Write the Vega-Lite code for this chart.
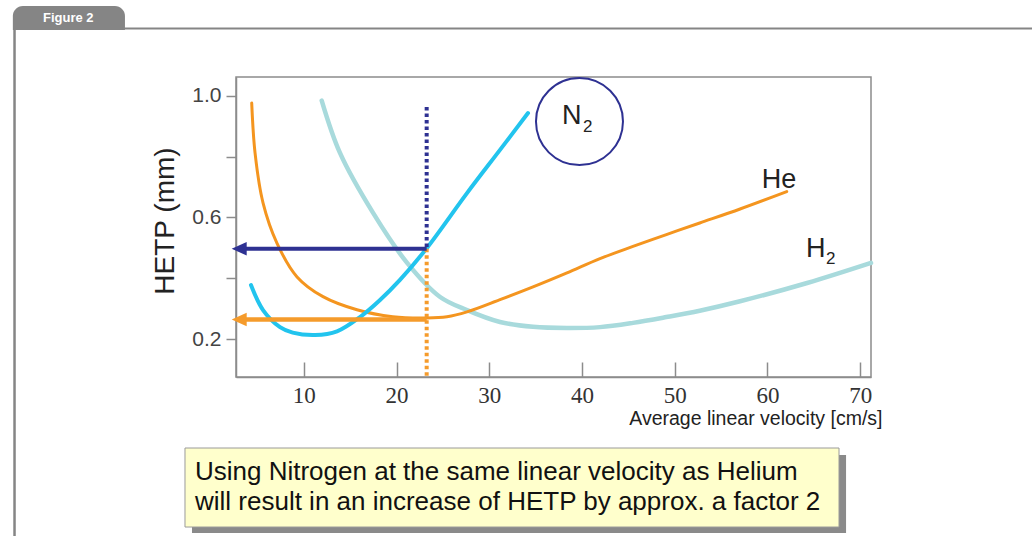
{
  "$schema": "https://vega.github.io/schema/vega-lite/v6.json",
  "width": 635,
  "height": 300,
  "autosize": {"type": "none"},
  "padding": {"left": 236, "top": 77, "right": 161, "bottom": 159},
  "background": "white",
  "config": {"view": {"stroke": "#8c8c8c", "strokeWidth": 1.5}, "font": "Liberation Sans"},
  "datasets": {
    "one": [{}],
    "curves": [
      {"gas": "H2", "v": 11.93, "hetp": 0.984},
      {"gas": "H2", "v": 13.9, "hetp": 0.812},
      {"gas": "H2", "v": 17.47, "hetp": 0.615},
      {"gas": "H2", "v": 21.14, "hetp": 0.451},
      {"gas": "H2", "v": 24.7, "hetp": 0.339},
      {"gas": "H2", "v": 27.6, "hetp": 0.296},
      {"gas": "H2", "v": 31.16, "hetp": 0.257},
      {"gas": "H2", "v": 34.72, "hetp": 0.241},
      {"gas": "H2", "v": 38.38, "hetp": 0.237},
      {"gas": "H2", "v": 41.94, "hetp": 0.240},
      {"gas": "H2", "v": 45.5, "hetp": 0.254},
      {"gas": "H2", "v": 49.1, "hetp": 0.273},
      {"gas": "H2", "v": 52.7, "hetp": 0.294},
      {"gas": "H2", "v": 57.05, "hetp": 0.325},
      {"gas": "H2", "v": 64.28, "hetp": 0.385},
      {"gas": "H2", "v": 71.17, "hetp": 0.451},
      {"gas": "He", "v": 4.38, "hetp": 0.976},
      {"gas": "He", "v": 4.74, "hetp": 0.812},
      {"gas": "He", "v": 5.6, "hetp": 0.648},
      {"gas": "He", "v": 7.1, "hetp": 0.516},
      {"gas": "He", "v": 9.27, "hetp": 0.405},
      {"gas": "He", "v": 12.07, "hetp": 0.34},
      {"gas": "He", "v": 15.73, "hetp": 0.297},
      {"gas": "He", "v": 19.6, "hetp": 0.274},
      {"gas": "He", "v": 23.28, "hetp": 0.27},
      {"gas": "He", "v": 25.44, "hetp": 0.274},
      {"gas": "He", "v": 27.6, "hetp": 0.29},
      {"gas": "He", "v": 31.16, "hetp": 0.33},
      {"gas": "He", "v": 34.72, "hetp": 0.372},
      {"gas": "He", "v": 38.38, "hetp": 0.418},
      {"gas": "He", "v": 41.94, "hetp": 0.465},
      {"gas": "He", "v": 45.5, "hetp": 0.505},
      {"gas": "He", "v": 49.1, "hetp": 0.544},
      {"gas": "He", "v": 52.7, "hetp": 0.582},
      {"gas": "He", "v": 57.05, "hetp": 0.628},
      {"gas": "He", "v": 62.08, "hetp": 0.685},
      {"gas": "N2", "v": 4.3, "hetp": 0.378},
      {"gas": "N2", "v": 5.6, "hetp": 0.296},
      {"gas": "N2", "v": 7.43, "hetp": 0.24},
      {"gas": "N2", "v": 8.8, "hetp": 0.222},
      {"gas": "N2", "v": 11.21, "hetp": 0.214},
      {"gas": "N2", "v": 13.58, "hetp": 0.226},
      {"gas": "N2", "v": 16.06, "hetp": 0.273},
      {"gas": "N2", "v": 18.22, "hetp": 0.329},
      {"gas": "N2", "v": 20.37, "hetp": 0.395},
      {"gas": "N2", "v": 23.28, "hetp": 0.5},
      {"gas": "N2", "v": 27.6, "hetp": 0.68},
      {"gas": "N2", "v": 31.16, "hetp": 0.822},
      {"gas": "N2", "v": 34.18, "hetp": 0.943}
    ]
  },
  "layer": [
    {
      "data": {"name": "curves"},
      "transform": [{"filter": "datum.gas === 'H2'"}],
      "mark": {"type": "line", "interpolate": "catmull-rom", "color": "#a8dadc", "strokeWidth": 4.5, "strokeCap": "round"},
      "encoding": {
        "x": {
          "field": "v", "type": "quantitative",
          "scale": {"domain": [2.686, 71.17], "nice": false, "zero": false},
          "axis": {
            "title": "Average linear velocity [cm/s]",
            "values": [10, 20, 30, 40, 50, 60, 70],
            "grid": false,
            "tickSize": -15, "tickColor": "#8c8c8c", "tickWidth": 1.5,
            "domainColor": "#8c8c8c", "domainWidth": 1.5,
            "labelFont": "Liberation Serif", "labelFontSize": 23, "labelColor": "#333333",
            "labelPadding": 22, "labelFlush": false, "labelDx": -3,
            "titleFont": "Liberation Sans", "titleFontSize": 19.5, "titleFontWeight": "normal", "titleColor": "#222222",
            "titleAnchor": "end", "titleAlign": "right", "titleX": 646, "titleY": 47, "titleBaseline": "alphabetic"
          }
        },
        "y": {
          "field": "hetp", "type": "quantitative",
          "scale": {"domain": [0.0762, 1.0614], "nice": false, "zero": false},
          "axis": {
            "title": "HETP (mm)",
            "values": [0.2, 0.4, 0.6, 0.8, 1.0],
            "labelExpr": "abs(datum.value-0.4)<0.01 || abs(datum.value-0.8)<0.01 ? '' : format(datum.value, '.1f')",
            "grid": false,
            "tickSize": 10, "tickColor": "#8c8c8c", "tickWidth": 1.5,
            "domainColor": "#8c8c8c", "domainWidth": 1.5,
            "labelFont": "Liberation Sans", "labelFontSize": 21, "labelColor": "#444444", "labelPadding": 5,
            "titleFont": "Liberation Sans", "titleFontSize": 28, "titleFontWeight": "normal", "titleColor": "#222222",
            "titlePadding": 12, "titleY": 143.5
          }
        }
      }
    },
    {
      "data": {"name": "curves"},
      "transform": [{"filter": "datum.gas === 'He'"}],
      "mark": {"type": "line", "interpolate": "catmull-rom", "color": "#f4951f", "strokeWidth": 3, "strokeCap": "round"},
      "encoding": {
        "x": {"field": "v", "type": "quantitative"},
        "y": {"field": "hetp", "type": "quantitative"}
      }
    },
    {
      "data": {"name": "curves"},
      "transform": [{"filter": "datum.gas === 'N2'"}],
      "mark": {"type": "line", "interpolate": "catmull-rom", "color": "#22c4ee", "strokeWidth": 4, "strokeCap": "round"},
      "encoding": {
        "x": {"field": "v", "type": "quantitative"},
        "y": {"field": "hetp", "type": "quantitative"}
      }
    },
    {
      "data": {"name": "one"},
      "mark": {"type": "rule", "color": "#2e3192", "strokeWidth": 4, "strokeDash": [3.5, 3]},
      "encoding": {
        "x": {"datum": 23.25, "type": "quantitative"},
        "y": {"datum": 0.963, "type": "quantitative"},
        "y2": {"datum": 0.497}
      }
    },
    {
      "data": {"name": "one"},
      "mark": {"type": "rule", "color": "#f59b2b", "strokeWidth": 4, "strokeDash": [3.5, 3]},
      "encoding": {
        "x": {"datum": 23.25, "type": "quantitative"},
        "y": {"datum": 0.497, "type": "quantitative"},
        "y2": {"datum": 0.0762}
      }
    },
    {
      "data": {"name": "one"},
      "mark": {"type": "rule", "color": "#2e3192", "strokeWidth": 4},
      "encoding": {
        "x": {"datum": 3.44, "type": "quantitative"},
        "x2": {"datum": 23.25},
        "y": {"datum": 0.497, "type": "quantitative"}
      }
    },
    {
      "data": {"name": "one"},
      "mark": {"type": "rule", "color": "#f59b2b", "strokeWidth": 4.5},
      "encoding": {
        "x": {"datum": 3.44, "type": "quantitative"},
        "x2": {"datum": 23.25},
        "y": {"datum": 0.265, "type": "quantitative"}
      }
    },
    {
      "data": {"name": "one"},
      "mark": {"type": "point", "shape": "M0,0 L1,-0.45 L1,0.45 Z", "filled": true, "size": 900, "color": "#2e3192", "opacity": 1, "strokeWidth": 0},
      "encoding": {
        "x": {"datum": 2.22, "type": "quantitative"},
        "y": {"datum": 0.497, "type": "quantitative"}
      }
    },
    {
      "data": {"name": "one"},
      "mark": {"type": "point", "shape": "M0,0 L1,-0.45 L1,0.45 Z", "filled": true, "size": 900, "color": "#f59b2b", "opacity": 1, "strokeWidth": 0},
      "encoding": {
        "x": {"datum": 2.22, "type": "quantitative"},
        "y": {"datum": 0.265, "type": "quantitative"}
      }
    },
    {
      "data": {"name": "one"},
      "mark": {"type": "point", "shape": "circle", "filled": false, "size": 7569, "color": "#2e3192", "strokeWidth": 2, "opacity": 1},
      "encoding": {
        "x": {"datum": 39.73, "type": "quantitative"},
        "y": {"datum": 0.915, "type": "quantitative"}
      }
    },
    {
      "data": {"name": "one"},
      "mark": {"type": "text", "text": "N", "fontSize": 27, "align": "left", "baseline": "alphabetic", "color": "#222222"},
      "encoding": {
        "x": {"datum": 37.84, "type": "quantitative"},
        "y": {"datum": 0.907, "type": "quantitative"}
      }
    },
    {
      "data": {"name": "one"},
      "mark": {"type": "text", "text": "2", "fontSize": 17, "align": "left", "baseline": "alphabetic", "color": "#222222"},
      "encoding": {
        "x": {"datum": 40.1, "type": "quantitative"},
        "y": {"datum": 0.881, "type": "quantitative"}
      }
    },
    {
      "data": {"name": "one"},
      "mark": {"type": "text", "text": "He", "fontSize": 27, "align": "left", "baseline": "alphabetic", "color": "#222222"},
      "encoding": {
        "x": {"datum": 59.38, "type": "quantitative"},
        "y": {"datum": 0.697, "type": "quantitative"}
      }
    },
    {
      "data": {"name": "one"},
      "mark": {"type": "text", "text": "H", "fontSize": 27, "align": "left", "baseline": "alphabetic", "color": "#222222"},
      "encoding": {
        "x": {"datum": 64.16, "type": "quantitative"},
        "y": {"datum": 0.47, "type": "quantitative"}
      }
    },
    {
      "data": {"name": "one"},
      "mark": {"type": "text", "text": "2", "fontSize": 17, "align": "left", "baseline": "alphabetic", "color": "#222222"},
      "encoding": {
        "x": {"datum": 66.33, "type": "quantitative"},
        "y": {"datum": 0.447, "type": "quantitative"}
      }
    },
    {
      "data": {"name": "one"},
      "mark": {"type": "rect", "color": "#858585", "cornerRadiusTopLeft": 10, "cornerRadiusTopRight": 10},
      "encoding": {
        "x": {"datum": -21.38, "type": "quantitative"},
        "x2": {"datum": -9.29},
        "y": {"datum": 1.2946, "type": "quantitative"},
        "y2": {"datum": 1.2158}
      }
    },
    {
      "data": {"name": "one"},
      "mark": {"type": "rule", "color": "#858585", "strokeWidth": 2},
      "encoding": {
        "x": {"datum": -9.6, "type": "quantitative"},
        "x2": {"datum": 89.4},
        "y": {"datum": 1.2207, "type": "quantitative"}
      }
    },
    {
      "data": {"name": "one"},
      "mark": {"type": "rule", "color": "#858585", "strokeWidth": 2.5},
      "encoding": {
        "x": {"datum": -21.2, "type": "quantitative"},
        "y": {"datum": 1.2207, "type": "quantitative"},
        "y2": {"datum": -0.4755}
      }
    },
    {
      "data": {"name": "one"},
      "mark": {"type": "text", "text": "Figure 2", "fontSize": 13, "fontWeight": "bold", "align": "left", "baseline": "alphabetic", "color": "white"},
      "encoding": {
        "x": {"datum": -18.13, "type": "quantitative"},
        "y": {"datum": 1.242, "type": "quantitative"}
      }
    },
    {
      "data": {"name": "one"},
      "mark": {"type": "rect", "color": "#8a8a8a"},
      "encoding": {
        "x": {"datum": -2.06, "type": "quantitative"},
        "x2": {"datum": 68.48},
        "y": {"datum": -0.18, "type": "quantitative"},
        "y2": {"datum": -0.436}
      }
    },
    {
      "data": {"name": "one"},
      "mark": {"type": "rect", "fill": "#ffffcc", "stroke": "#9a9a9a", "strokeWidth": 1},
      "encoding": {
        "x": {"datum": -2.815, "type": "quantitative"},
        "x2": {"datum": 67.72},
        "y": {"datum": -0.157, "type": "quantitative"},
        "y2": {"datum": -0.4165}
      }
    },
    {
      "data": {"name": "one"},
      "mark": {"type": "text", "text": ["Using Nitrogen at the same linear velocity as Helium", "will result in an increase of HETP by approx. a factor 2"], "fontSize": 26, "lineHeight": 30, "align": "left", "baseline": "alphabetic", "color": "#111111"},
      "encoding": {
        "x": {"datum": -1.737, "type": "quantitative"},
        "y": {"datum": -0.262, "type": "quantitative"}
      }
    }
  ]
}
